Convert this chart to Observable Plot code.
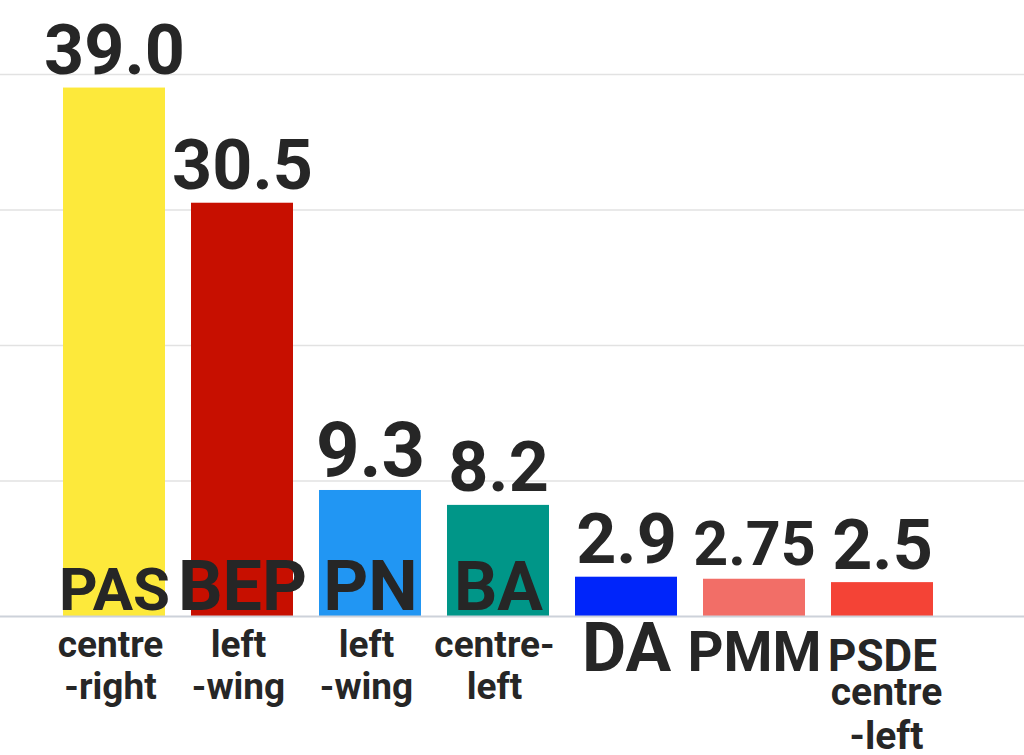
<!DOCTYPE html>
<html>
<head>
<meta charset="utf-8">
<script src="https://cdn.jsdelivr.net/npm/d3@7"></script>
<script src="https://cdn.jsdelivr.net/npm/@observablehq/plot@0.6"></script>
<style>
  html, body { margin: 0; padding: 0; background: #fff; overflow: hidden; }
  #chart svg { display: block; }
</style>
</head>
<body>
<div id="chart"></div>
<script>
// ---- data ----
const parties = ["PAS", "BEP", "PN", "BA", "DA", "PMM", "PSDE"];
const values = [39.0, 30.5, 9.3, 8.2, 2.9, 2.75, 2.5];
const valueLabels = ["39.0", "30.5", "9.3", "8.2", "2.9", "2.75", "2.5"];
const leanings = ["centre\n-right", "left\n-wing", "left\n-wing", "centre-\nleft", "", "", "centre\n-left"];
const colors = ["#FDE93B", "#C70F00", "#2196F3", "#009688", "#0025FA", "#F26E67", "#F44336"];
const yTicks = [0, 10, 20, 30, 40];

// ---- styles (not data) ----
const valueSize = {PAS: 70, BEP: 70, PN: 76, BA: 70, DA: 70, PMM: 61, PSDE: 70};
const nameSize = {PAS: 60, BEP: 70, PN: 70, BA: 68, DA: 68, PMM: 56, PSDE: 44};

const rows = parties.map((p, i) => ({
  party: p, value: values[i], label: valueLabels[i], leaning: leanings[i], color: colors[i]
}));
const tall = rows.filter(d => d.value > 5);
const short = rows.filter(d => d.value <= 5);

const font = "Roboto, 'Noto Sans', sans-serif";

const chart = Plot.plot({
  width: 1024,
  height: 755,
  marginTop: 74,
  marginBottom: 139,
  marginLeft: 0,
  marginRight: 0,
  style: {fontFamily: font, background: "#fff", overflow: "visible"},
  x: {domain: parties, paddingInner: 0.2, paddingOuter: 0.1, insetLeft: 50, insetRight: 78, axis: null},
  y: {domain: [0, 40], axis: null},
  marks: [
    Plot.ruleY(yTicks.filter(t => t > 0), {stroke: "#e2e2e2", strokeWidth: 1.6}),
    Plot.barY(rows, {x: "party", y: "value", fill: "color"}),
    Plot.ruleY([0], {stroke: "#cdd2da", strokeWidth: 2}),
    // value labels above bars
    Plot.text(rows, {
      x: "party", y: "value", text: "label",
      fontSize: d => valueSize[d.party], fontWeight: 700, fill: "#262626",
      lineAnchor: "bottom", dy: -14
    }),
    // party names inside tall bars
    Plot.text(tall, {
      x: "party", y: 0, text: "party",
      fontSize: d => nameSize[d.party], fontWeight: 700, fill: "#262626",
      lineAnchor: "bottom", dy: -7
    }),
    // party names below short bars
    Plot.text(short, {
      x: "party", y: 0, text: "party",
      fontSize: d => nameSize[d.party], fontWeight: 700, fill: "#262626",
      lineAnchor: "bottom", dy: 54
    }),
    // leanings under tall bars
    Plot.text(tall, {
      x: "party", y: 0, text: "leaning",
      fontSize: 37, fontWeight: 700, fill: "#262626",
      lineAnchor: "top", lineHeight: 1.15, dy: 10, dx: -4
    }),
    // leaning under short bars
    Plot.text(short.filter(d => d.leaning), {
      x: "party", y: 0, text: "leaning",
      fontSize: 39, fontWeight: 700, fill: "#262626",
      lineAnchor: "top", lineHeight: 1.13, dy: 57, dx: 4
    })
  ]
});

document.getElementById("chart").appendChild(chart);
</script>
</body>
</html>
